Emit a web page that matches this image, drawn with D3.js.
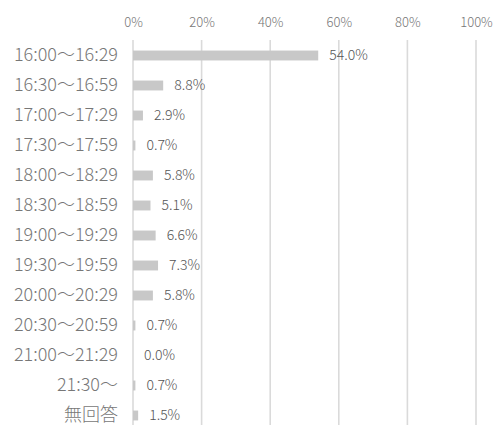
<!DOCTYPE html>
<html><head><meta charset="utf-8">
<script src="https://cdn.jsdelivr.net/npm/d3@7"></script>
<style>
html,body{margin:0;padding:0;background:#fff;}
svg{display:block;}
text{font-family:"Noto Sans CJK JP","Noto Sans",sans-serif;}
</style></head>
<body>
<svg id="chart" width="494" height="425"></svg>
<script>
const categories = ["16:00～16:29","16:30～16:59","17:00～17:29","17:30～17:59","18:00～18:29","18:30～18:59","19:00～19:29","19:30～19:59","20:00～20:29","20:30～20:59","21:00～21:29","21:30～","無回答"];
const values = [54.0, 8.8, 2.9, 0.7, 5.8, 5.1, 6.6, 7.3, 5.8, 0.7, 0.0, 0.7, 1.5];
const tickValues = [0, 20, 40, 60, 80, 100];
const tickLabels = ["0%","20%","40%","60%","80%","100%"];

const svg = d3.select("#chart");
const x = d3.scaleLinear().domain([0, 100]).range([133, 476]);
const y = d3.scaleBand().domain(categories).range([40.5, 40.5 + 13 * 30]).paddingInner(0.67).paddingOuter(0.335);

// gridlines
svg.append("g").selectAll("line").data(tickValues).join("line")
  .attr("x1", d => x(d)).attr("x2", d => x(d))
  .attr("y1", 40).attr("y2", 425)
  .attr("stroke", "#dadada").attr("stroke-width", 1.6);

// top axis labels
const xAxis = d3.axisTop(x).tickValues(tickValues).tickFormat((d, i) => tickLabels[i]).tickSize(0).tickPadding(0);
const gx = svg.append("g").attr("transform", "translate(0,27)").call(xAxis);
gx.select(".domain").remove();
gx.selectAll("text").attr("font-size", 13).attr("fill", "#777").style("font-family", '"Noto Sans CJK JP","Noto Sans",sans-serif').style("font-weight", 300);

// y axis labels
const yAxis = d3.axisLeft(y).tickSize(0).tickPadding(0);
const gy = svg.append("g").attr("transform", "translate(118,0)").call(yAxis);
gy.select(".domain").remove();
gy.selectAll("text").attr("font-size", 18).attr("fill", "#777").attr("dy", "0.33em").style("font-family", '"Noto Sans CJK JP","Noto Sans",sans-serif').style("font-weight", 300);

// bars
svg.append("g").selectAll("rect").data(values).join("rect")
  .attr("x", x(0))
  .attr("y", (d, i) => y(categories[i]))
  .attr("width", d => x(d) - x(0))
  .attr("height", y.bandwidth())
  .attr("fill", "#c8c8c8");

// value labels
svg.append("g").selectAll("text").data(values).join("text")
  .attr("x", d => x(d) + 11)
  .attr("y", (d, i) => y(categories[i]) + y.bandwidth() / 2)
  .attr("dy", "0.35em")
  .attr("font-size", 14)
  .attr("fill", "#555")
  .style("font-weight", 300)
  .text(d => d.toFixed(1) + "%");
</script>
</body></html>
